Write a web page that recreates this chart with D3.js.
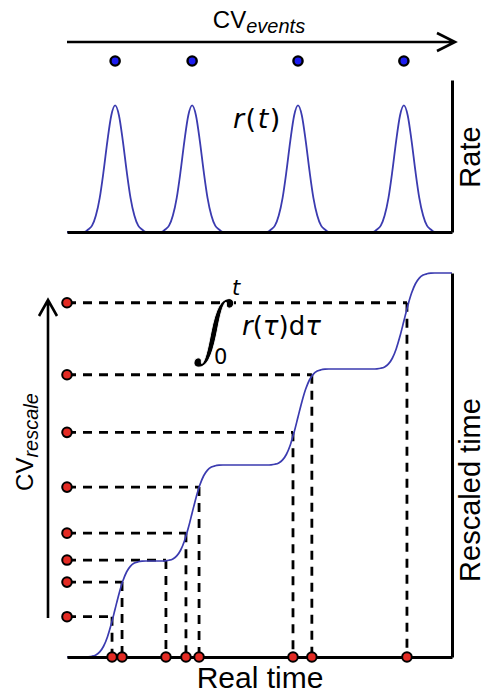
<!DOCTYPE html>
<html lang="en">
<head>
<meta charset="UTF-8">
<title>Time rescaling</title>
<script src="https://cdn.jsdelivr.net/npm/d3@7"></script>
<style>
  body { margin: 0; background: #fff; }
  svg { display: block; font-family: "Liberation Sans", Arial, sans-serif; }
</style>
</head>
<body>
<div id="chart"></div>
<script>
// centres of the rate bumps r(t), real time 0..100
var peakTimes = [12.5, 32.5, 60, 87.5];
// one bump of r(t): [offset from centre, relative rate]
var peakShape = [[-8,0],[-7,0.02],[-6,0.05],[-5,0.13],[-4,0.27],[-3,0.48],[-2,0.72],[-1,0.92],[0,1],
                 [1,0.92],[2,0.72],[3,0.48],[4,0.27],[5,0.13],[6,0.05],[7,0.02],[8,0]];
// one step of the integral: [offset from centre, fraction of step done]
var stepShape = [[-8,0],[-7,0.002],[-6,0.008],[-5,0.022],[-4,0.053],[-3,0.112],[-2,0.209],[-1,0.343],[0,0.5],
                 [1,0.657],[2,0.791],[3,0.888],[4,0.947],[5,0.978],[6,0.992],[7,0.998],[8,1]];
// events: real time on the x axis and their rescaled time
var eventTimes    = [11.7, 14.3, 25.7, 30.9, 34.3, 58.7, 63.6, 88.3];
var eventRescaled = [0.42, 0.78, 1.01, 1.29, 1.77, 2.34, 2.94, 3.69];

var width = 486, height = 696;
var blue = '#3b3bb0';
var red = '#e32b24';

var x = d3.scaleLinear().domain([0, 100]).range([67, 452]);
var yRate = d3.scaleLinear().domain([0, 1.2]).range([232, 80]);
var yRes = d3.scaleLinear().domain([0, 4]).range([657, 273]);

var rateData = [[0, 0]];
peakTimes.forEach(function(p){
    peakShape.forEach(function(s){ rateData.push([p + s[0], s[1]]); });
});
rateData.push([100, 0]);

var cumData = [[0, 0]];
peakTimes.forEach(function(p, i){
    stepShape.forEach(function(s){ cumData.push([p + s[0], i + s[1]]); });
});
cumData.push([100, peakTimes.length]);

var svg = d3.select('#chart').append('svg').attr('width', width).attr('height', height);

// ---- top: events arrow ----
svg.append('path')
    .attr('d', 'M' + x(0) + ',42H' + (x(100) + 3) + 'M' + (x(100) - 15) + ',33L' + (x(100) + 3) + ',42L' + (x(100) - 15) + ',51')
    .attr('fill', 'none').attr('stroke', '#000').attr('stroke-width', 2.6);

var cvTop = svg.append('text').attr('x', 259).attr('y', 28).attr('text-anchor', 'middle').attr('font-size', 24);
cvTop.append('tspan').text('CV');
cvTop.append('tspan').attr('font-style', 'italic').attr('font-size', 20).attr('dy', 5).text('events');

svg.selectAll('circle.ev').data(peakTimes).enter().append('circle')
    .attr('class', 'ev')
    .attr('cx', function(d){ return x(d); }).attr('cy', 61).attr('r', 4.6)
    .attr('fill', '#1c1cf0').attr('stroke', '#000').attr('stroke-width', 2.4);

// ---- rate panel ----
svg.append('path').datum(rateData)
    .attr('d', d3.line().x(function(d){ return x(d[0]); }).y(function(d){ return yRate(d[1]); }).curve(d3.curveMonotoneX))
    .attr('fill', 'none').attr('stroke', blue).attr('stroke-width', 1.8);

svg.append('g').attr('transform', 'translate(0,232)')
    .call(d3.axisBottom(x).ticks(0).tickSizeOuter(0))
    .select('.domain').attr('stroke-width', 3);
svg.append('g').attr('transform', 'translate(452,0)')
    .call(d3.axisLeft(yRate).ticks(0).tickSizeOuter(0))
    .select('.domain').attr('stroke-width', 3);

var rt = svg.append('text').attr('x', 233).attr('y', 128).attr('font-size', 27)
    .attr('font-family', '"DejaVu Sans", sans-serif').attr('letter-spacing', 1.5);
rt.append('tspan').attr('font-style', 'italic').text('r');
rt.append('tspan').text('(');
rt.append('tspan').attr('font-style', 'italic').text('t');
rt.append('tspan').text(')');

svg.append('text').attr('transform', 'translate(480,157) rotate(-90)')
    .attr('text-anchor', 'middle').attr('font-size', 29).text('Rate');

// ---- bottom: rescaling panel ----
var dash = svg.append('g').attr('stroke', '#000').attr('stroke-width', 2.8).attr('stroke-dasharray', '9,7');
eventTimes.forEach(function(t, i){
    var v = eventRescaled[i];
    dash.append('line').attr('x1', x(0)).attr('x2', x(t)).attr('y1', yRes(v)).attr('y2', yRes(v));
    dash.append('line').attr('x1', x(t)).attr('x2', x(t)).attr('y1', yRes(v)).attr('y2', yRes(0));
});

svg.append('path').datum(cumData)
    .attr('d', d3.line().x(function(d){ return x(d[0]); }).y(function(d){ return yRes(d[1]); }).curve(d3.curveMonotoneX))
    .attr('fill', 'none').attr('stroke', blue).attr('stroke-width', 1.7);

svg.append('g').attr('transform', 'translate(0,657)')
    .call(d3.axisBottom(x).ticks(0).tickSizeOuter(0))
    .select('.domain').attr('stroke-width', 3);
svg.append('g').attr('transform', 'translate(452,0)')
    .call(d3.axisLeft(yRes).ticks(0).tickSizeOuter(0))
    .select('.domain').attr('stroke-width', 3);

// vertical arrow for rescaled CV
svg.append('path')
    .attr('d', 'M48,618V300M39,316L48,300L57,316')
    .attr('fill', 'none').attr('stroke', '#000').attr('stroke-width', 2.6);

svg.selectAll('circle.left').data(eventRescaled).enter().append('circle')
    .attr('class', 'left')
    .attr('cx', x(0)).attr('cy', function(d){ return yRes(d); }).attr('r', 4.8)
    .attr('fill', red).attr('stroke', '#000').attr('stroke-width', 2);
svg.selectAll('circle.bot').data(eventTimes).enter().append('circle')
    .attr('class', 'bot')
    .attr('cx', function(d){ return x(d); }).attr('cy', yRes(0)).attr('r', 4.8)
    .attr('fill', red).attr('stroke', '#000').attr('stroke-width', 2);

// integral label (thin white outline lightens the glyph)
svg.append('text').attr('transform', 'translate(194,354) skewX(-10) scale(1,1.18)')
    .attr('font-family', '"DejaVu Serif", serif')
    .attr('font-size', 62).attr('stroke', '#fff').attr('stroke-width', 0.8)
    .text('\u222B');
svg.append('text').attr('x', 232).attr('y', 295).attr('font-size', 21)
    .attr('font-family', '"DejaVu Sans", sans-serif').attr('font-style', 'italic').text('t');
svg.append('text').attr('x', 214).attr('y', 364).attr('font-size', 21)
    .attr('font-family', '"DejaVu Sans", sans-serif').text('0');
var it = svg.append('text').attr('x', 242).attr('y', 335).attr('font-size', 26)
    .attr('font-family', '"DejaVu Sans", sans-serif');
it.append('tspan').attr('font-style', 'italic').text('r');
it.append('tspan').text('(');
it.append('tspan').attr('font-style', 'italic').text('\u03C4');
it.append('tspan').text(')d');
it.append('tspan').attr('font-style', 'italic').text('\u03C4');

var cvLeft = svg.append('text').attr('transform', 'translate(33,442) rotate(-90)')
    .attr('text-anchor', 'middle').attr('font-size', 24);
cvLeft.append('tspan').text('CV');
cvLeft.append('tspan').attr('font-style', 'italic').attr('font-size', 20).attr('dy', 5).text('rescale');

svg.append('text').attr('transform', 'translate(480,490) rotate(-90)')
    .attr('text-anchor', 'middle').attr('font-size', 29).text('Rescaled time');

svg.append('text').attr('x', 260).attr('y', 688).attr('text-anchor', 'middle')
    .attr('font-size', 30).text('Real time');
</script>
</body>
</html>
